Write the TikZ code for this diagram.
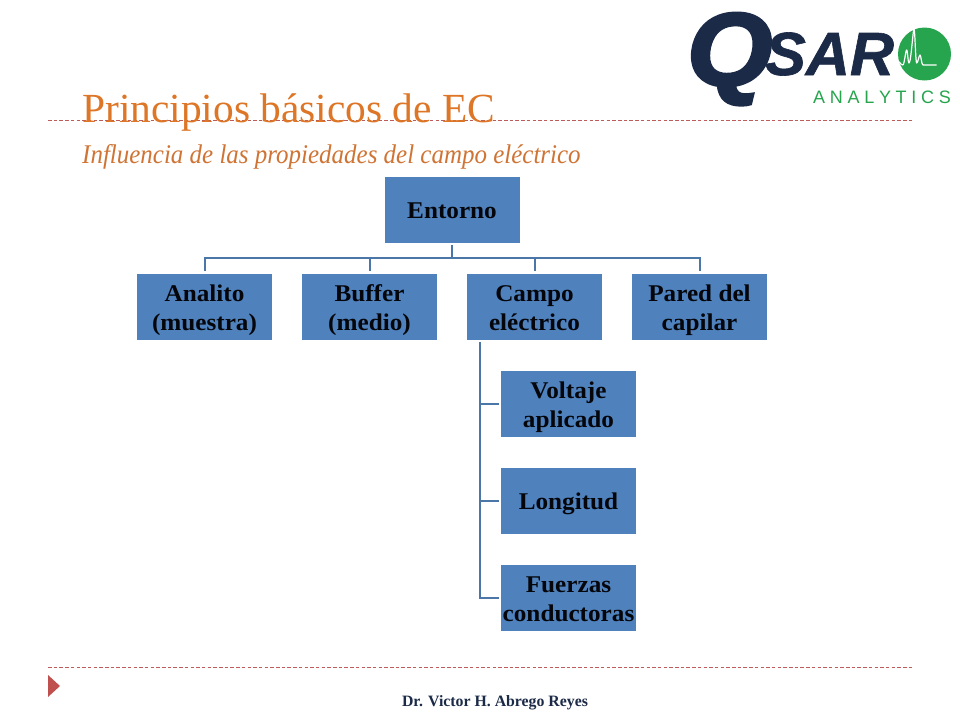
\documentclass[tikz,border=0pt]{standalone}
\usepackage{graphicx}
\usepackage{fontspec}
\setmainfont{Liberation Serif}
\newfontfamily\logofont{Liberation Sans}
\newfontfamily\logoheavy[BoldItalicFeatures={FakeBold=3}]{Liberation Sans}
\newfontfamily\logomid[BoldItalicFeatures={FakeBold=1}]{Liberation Sans}
\usetikzlibrary{calc}
\definecolor{boxblue}{HTML}{4F81BD}
\definecolor{linkblue}{HTML}{4A76A8}
\definecolor{titleor}{HTML}{DD7626}
\definecolor{subor}{HTML}{CF7434}
\definecolor{rulered}{HTML}{BE5B5B}
\definecolor{trired}{HTML}{C0504D}
\definecolor{navy}{HTML}{1B2A47}
\definecolor{logogreen}{HTML}{27A54E}
\newcommand\boxlabel[1]{\raisebox{-3pt}[\height][\depth]{\scalebox{1.05}[1]{\begin{tabular}{@{}c@{}}#1\end{tabular}}}}
\tikzset{
  orgbox/.style={fill=boxblue,draw=none,minimum width=135pt,minimum height=66pt,inner sep=0pt,
    font=\fontsize{24}{29}\selectfont\bfseries,text=black!85!navy},
  link/.style={draw=linkblue,line width=2pt},
  rulel/.style={draw=rulered,line width=0.8pt,dash pattern=on 3.5pt off 2.2pt},
}
\begin{document}
\begin{tikzpicture}[x=1pt,y=-1pt]
\useasboundingbox (0,0) rectangle (960,720);
\fill[white] (0,0) rectangle (960,720);
% rules
\coordinate (r1a) at (48,120.5); \coordinate (r1b) at (913,120.5);
\coordinate (r2a) at (48,667); \coordinate (r2b) at (913,667);
\draw[rulel] (r1a) -- (r1b);
\draw[rulel] (r2a) -- (r2b);
% title
\node[anchor=base west,inner sep=0pt,text=titleor,font=\fontsize{41.4}{41.4}\selectfont] (title) at (82,122) {Principios básicos de EC};
\node[anchor=base west,inner sep=0pt,text=subor,font=\fontsize{27}{27}\selectfont\itshape] (sub) at (82,163) {\scalebox{0.925}[1]{Influencia de las propiedades del campo eléctrico}};
% boxes
\node[orgbox] (ent) at (452,210) {\boxlabel{Entorno}};
\node[orgbox] (ana) at (204.5,307) {\boxlabel{Analito\\(muestra)}};
\node[orgbox] (buf) at (369.5,307) {\boxlabel{Buffer\\(medio)}};
\node[orgbox] (cam) at (534.5,307) {\boxlabel{Campo\\eléctrico}};
\node[orgbox] (par) at (699.5,307) {\boxlabel{Pared del\\capilar}};
\node[orgbox] (vol) at (568.5,404) {\boxlabel{Voltaje\\aplicado}};
\node[orgbox] (lon) at (568.5,501) {\boxlabel{Longitud}};
\node[orgbox] (fue) at (568.5,598) {\boxlabel{Fuerzas\\conductoras}};
% connectors
\coordinate (bus) at ($(ent.south)+(0,15)$);
\draw[link] ($(ent.south)+(0,2)$) -- (bus);
\foreach \n in {ana,buf,cam,par}{
  \draw[link] (bus) -| ($(\n.north)+(0,-3)$);
}
\coordinate (sp) at ($(cam.south west)+(13,2)$);
\draw[link] (sp) |- ($(fue.west)+(-2,0)$);
\draw[link] (sp |- vol.west) -- ($(vol.west)+(-2,0)$);
\draw[link] (sp |- lon.west) -- ($(lon.west)+(-2,0)$);
% logo
\node[anchor=base west,inner sep=0pt,text=navy] (q) at (687,85) {\scalebox{1.06}[1]{\logoheavy\bfseries\itshape\fontsize{103}{103}\selectfont Q}};
\node[anchor=base west,inner sep=0pt,text=navy] (sar) at (765,75) {\logomid\bfseries\itshape\fontsize{61}{61}\selectfont SAR};
\fill[logogreen] (924.5,54) circle (26.5);
\draw[white,line width=1.2pt,line join=round] (899.3,61.7) .. controls (900.5,64) and (901.5,65) .. (902.7,65) .. controls (904.5,65) and (905.5,50) .. (906.7,50) .. controls (907.5,50) and (908,63) .. (909,63) .. controls (911,63) and (913,29) .. (914,29) .. controls (915,29) and (915.5,63) .. (916.7,63) .. controls (918,63) and (919,55) .. (920,55) .. controls (921,55) and (921.5,65) .. (923,65) -- (936.7,65);
\node[anchor=base west,inner sep=0pt,text=logogreen] (ana2) at (813,103) {\logofont\fontsize{18}{18}\selectfont A\hspace{4.7pt}N\hspace{4.7pt}A\hspace{4.7pt}L\hspace{4.7pt}Y\hspace{4.7pt}T\hspace{4.7pt}I\hspace{4.7pt}C\hspace{4.7pt}S};
% footer
\fill[trired] (48,675) -- (60,686) -- (48,697) -- cycle;
\node[anchor=base,inner sep=0pt,text=navy,font=\fontsize{15.8}{15.8}\selectfont\bfseries] (foot) at (495,706) {Dr. Victor H. Abrego Reyes};
\end{tikzpicture}
\end{document}
